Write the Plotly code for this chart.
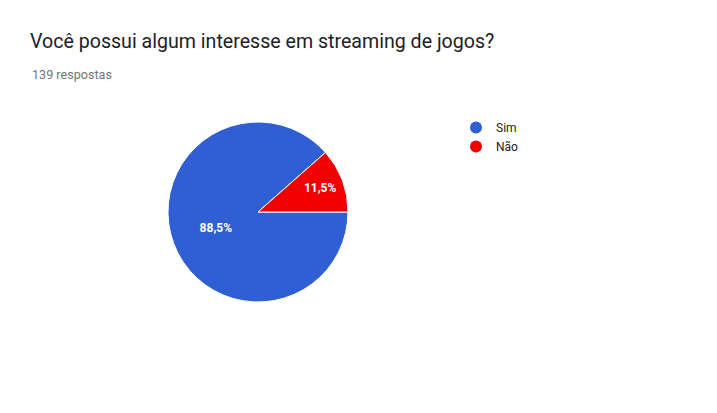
import plotly.graph_objects as go

categories = ["Sim", "Não"]
values = [123, 16]
colors = ["#2f5fd3", "#f00000"]
title_text = "Você possui algum interesse em streaming de jogos?"
subtitle_text = "139 respostas"

W, H = 717, 413
cx, cy, r = 258, 212, 90

fig = go.Figure()
fig.add_trace(go.Pie(
    labels=categories, values=values, sort=False,
    direction="clockwise", rotation=90,
    marker=dict(colors=colors, line=dict(color="white", width=1)),
    texttemplate="%{percent:.1%}", textposition="inside",
    insidetextorientation="horizontal",
    textfont=dict(family="Roboto, Arial", size=12, color="white", weight="bold"),
    showlegend=False, hoverinfo="label+percent",
    domain=dict(x=[(cx - r) / W, (cx + r) / W], y=[1 - (cy + r) / H, 1 - (cy - r) / H]),
))
for c, col in zip(categories, colors):
    fig.add_trace(go.Scatter(x=[None], y=[None], mode="markers", name=c,
                             marker=dict(symbol="circle", size=12, color=col)))

fig.update_layout(
    width=W, height=H, margin=dict(l=0, r=0, t=0, b=0),
    paper_bgcolor="white", plot_bgcolor="white",
    separators=",.",
    xaxis=dict(visible=False), yaxis=dict(visible=False),
    font=dict(family="Roboto, Arial"),
    legend=dict(x=456 / W, y=1 - 113 / H, xanchor="left", yanchor="top",
                font=dict(size=12, color="#222222"), itemsizing="constant",
                itemwidth=30,
                tracegroupgap=0, bgcolor="rgba(0,0,0,0)"),
    annotations=[
        dict(text=title_text, x=28 / W, y=1 - 28 / H, xref="paper", yref="paper",
             xanchor="left", yanchor="top", showarrow=False,
             font=dict(size=19.6, color="#202124", family="Roboto, Arial")),
        dict(text=subtitle_text, x=30 / W, y=1 - 65 / H, xref="paper", yref="paper",
             xanchor="left", yanchor="top", showarrow=False,
             font=dict(size=12.6, color="#757575", family="Roboto, Arial")),
    ],
)
fig.write_html("out.html")
